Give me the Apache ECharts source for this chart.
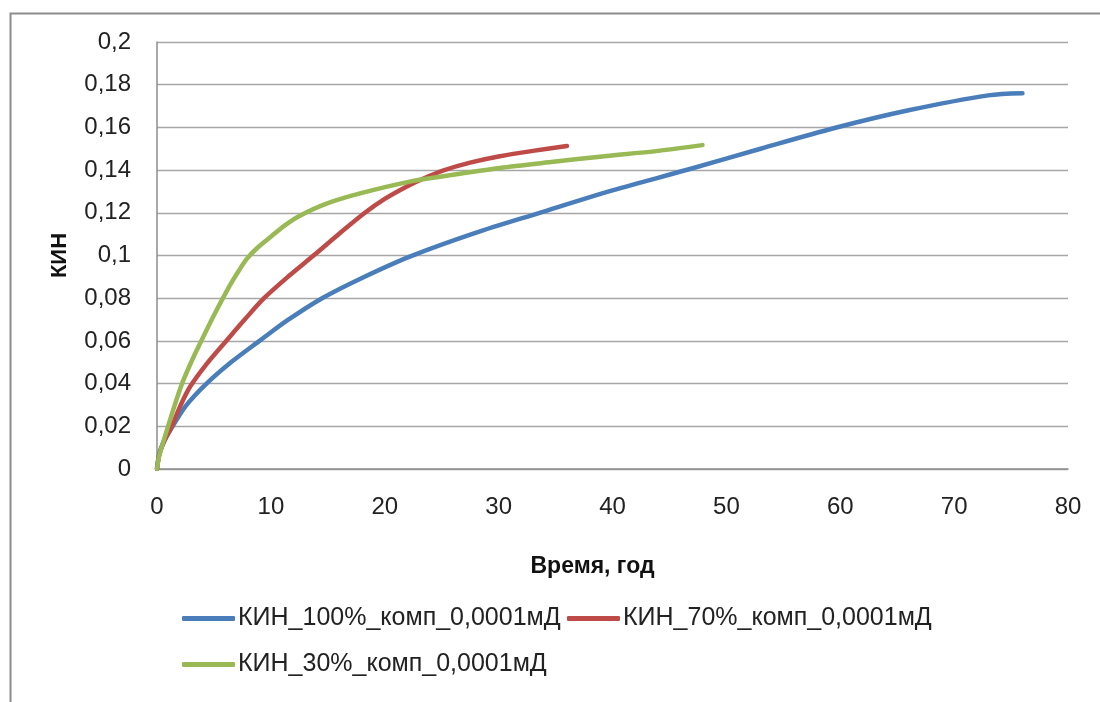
<!DOCTYPE html>
<html>
<head>
<meta charset="utf-8">
<script src="https://cdn.jsdelivr.net/npm/echarts@6/dist/echarts.min.js"></script>
<style>
  html, body { margin: 0; padding: 0; background: #fff; }
  #chart { width: 1100px; height: 702px; }
</style>
</head>
<body>
<div id="chart"></div>
<script>
// Recovery factor (КИН) vs time for three compaction variants
const seriesNames = [
  'КИН_100%_комп_0,0001мД',
  'КИН_70%_комп_0,0001мД',
  'КИН_30%_комп_0,0001мД'
];

const years100 = [0, 0.2, 0.6, 1.37, 2.6, 4.35, 6.5, 9.0, 11.5, 14.5, 18, 22.2, 27.9, 33.6, 40, 46.8, 53, 59.5, 66, 73, 76];
const kin100   = [0, 0.007, 0.013, 0.020, 0.030, 0.040, 0.050, 0.0600, 0.0698, 0.080, 0.0895, 0.0995, 0.1105, 0.120, 0.1305, 0.1405, 0.150, 0.1597, 0.168, 0.175, 0.176];

const years70 = [0, 0.2, 0.6, 1.3, 2.0, 2.9, 4.4, 6.0, 7.7, 9.4, 11.6, 13.8, 16, 18.2, 20, 21.9, 23.5, 25.1, 27.5, 30.1, 33, 36];
const kin70   = [0, 0.0068, 0.0125, 0.020, 0.029, 0.0385, 0.0495, 0.0595, 0.070, 0.080, 0.0905, 0.1002, 0.1102, 0.1198, 0.1265, 0.1322, 0.1363, 0.1398, 0.1435, 0.1465, 0.149, 0.1513];

const years30 = [0, 0.15, 0.4, 0.97, 1.5, 2.2, 3.0, 3.8, 5.0, 6.4, 7.2, 7.9, 8.8, 10, 11.2, 12.5, 15, 18, 22.2, 25, 30.1, 35, 38.9, 44, 47.9];
const kin30   = [0, 0.005, 0.010, 0.020, 0.029, 0.040, 0.050, 0.059, 0.072, 0.086, 0.093, 0.0985, 0.1035, 0.1088, 0.114, 0.1185, 0.1245, 0.1293, 0.1346, 0.137, 0.141, 0.144, 0.1463, 0.149, 0.1517];

const xTicks = { min: 0, max: 80, step: 10 };
const yTicks = { min: 0, max: 0.2, step: 0.02 };

const colors = ['#4a7ebb', '#be4b48', '#98b954'];

const pairs = (xs, ys) => xs.map((x, i) => [x, ys[i]]);
const commaNum = v => String(parseFloat(v.toFixed(4))).replace('.', ',');

const font = 'Liberation Sans, Arial, sans-serif';

function lineSeries(name, data, color) {
  return {
    name: name,
    type: 'line',
    data: data,
    smooth: 0.3,
    symbol: 'none',
    showSymbol: false,
    lineStyle: { color: color, width: 4.5, cap: 'round', join: 'round' },
    itemStyle: { color: color }
  };
}

function legendAt(name, left, top) {
  return {
    data: [name],
    left: left,
    top: top,
    icon: 'roundRect',
    itemWidth: 53,
    itemHeight: 5,
    itemGap: 2,
    padding: 0,
    textStyle: { fontFamily: font, fontSize: 25, color: '#222', padding: [0, 0, 0, -2] }
  };
}

const chart = echarts.init(document.getElementById('chart'), null, { renderer: 'canvas' });

chart.setOption({
  animation: false,
  backgroundColor: '#fff',
  color: colors,
  grid: { left: 157, right: 32, top: 42, bottom: 233, containLabel: false },
  legend: [
    legendAt(seriesNames[0], 182, 606),
    legendAt(seriesNames[1], 567, 606),
    legendAt(seriesNames[2], 182, 652)
  ],
  xAxis: {
    type: 'value',
    min: xTicks.min,
    max: xTicks.max,
    interval: xTicks.step,
    name: 'Время, год',
    nameLocation: 'middle',
    nameGap: 86,
    nameTextStyle: { fontFamily: font, fontSize: 23, fontWeight: 'bold', color: '#111', padding: [0, 40, 0, 0] },
    axisLine: { show: true, lineStyle: { color: '#8c8c8c', width: 1.5 } },
    axisTick: { show: false },
    splitLine: { show: false },
    axisLabel: {
      margin: 26,
      fontFamily: font,
      fontSize: 24,
      color: '#222',
      formatter: v => commaNum(v)
    }
  },
  yAxis: {
    type: 'value',
    min: yTicks.min,
    max: yTicks.max,
    interval: yTicks.step,
    name: 'КИН',
    nameLocation: 'middle',
    nameGap: 86,
    nameTextStyle: { fontFamily: font, fontSize: 22, fontWeight: 'bold', color: '#111' },
    axisLine: { show: true, lineStyle: { color: '#8c8c8c', width: 1.5 } },
    axisTick: { show: false },
    splitLine: { show: true, lineStyle: { color: '#a6a6a6', width: 1.3 } },
    axisLabel: {
      margin: 26,
      fontFamily: font,
      fontSize: 24,
      color: '#222',
      formatter: v => commaNum(v)
    }
  },
  graphic: [
    {
      type: 'rect',
      left: 8,
      top: 11,
      shape: { x: 0, y: 0, width: 1200, height: 800 },
      style: { fill: 'none', stroke: '#8c8c8c', lineWidth: 2 },
      silent: true,
      z: -1
    }
  ],
  series: [
    lineSeries(seriesNames[0], pairs(years100, kin100), colors[0]),
    lineSeries(seriesNames[1], pairs(years70, kin70), colors[1]),
    lineSeries(seriesNames[2], pairs(years30, kin30), colors[2])
  ]
});
</script>
</body>
</html>
